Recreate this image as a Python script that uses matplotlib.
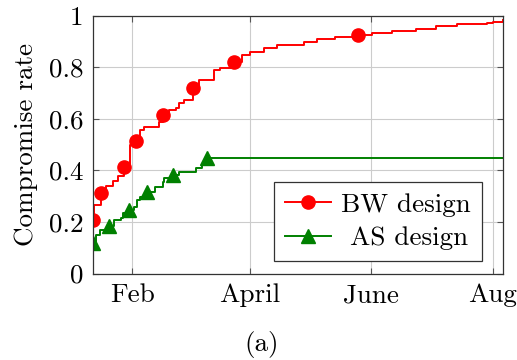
import matplotlib
matplotlib.use('Agg')
import matplotlib.pyplot as plt

plt.rcParams.update({
    'font.family': 'serif',
    'font.serif': ['cmr10'],
    'mathtext.fontset': 'cm',
    'axes.formatter.use_mathtext': True,
    'font.size': 19.5,
})

# day of year (Jan 1 = 0) and cumulative compromise rate
bw_days = [11.2, 11.5, 15.1, 17.6, 21.0, 23.5, 26.9, 29.7, 29.7, 32.8, 34.8, 36.7,
           44.1, 46.6, 49.5, 53.0, 54.5, 56.9, 61.3, 64.3, 70.2, 72.0, 75.1, 82.0,
           85.9, 89.9, 97.0, 103.6, 117.4, 124.0, 132.7, 144.5, 151.2, 161.3,
           173.5, 183.7, 193.9, 209.1, 212.2, 217.0]
bw_rate = [0.208, 0.266, 0.312, 0.340, 0.359, 0.379, 0.414, 0.429, 0.499, 0.515,
           0.557, 0.569, 0.588, 0.616, 0.635, 0.643, 0.662, 0.674, 0.720, 0.751,
           0.751, 0.790, 0.798, 0.821, 0.848, 0.860, 0.876, 0.887, 0.899, 0.911,
           0.918, 0.926, 0.934, 0.942, 0.950, 0.961, 0.969, 0.972, 0.977, 0.982]
bw_marks = [0, 2, 6, 9, 13, 18, 23, 31]

as_days = [11.0, 12.8, 14.5, 19.4, 21.9, 25.0, 26.0, 29.2, 31.7, 33.3, 34.8, 38.2,
           42.3, 46.4, 47.1, 51.4, 54.5, 62.8, 66.1, 68.6, 217.0]
as_rate = [0.118, 0.150, 0.169, 0.184, 0.208, 0.214, 0.235, 0.247, 0.259, 0.285,
           0.298, 0.318, 0.337, 0.357, 0.371, 0.383, 0.395, 0.410, 0.421, 0.447, 0.447]
as_marks = [0, 3, 7, 11, 15, 19]

month_ticks = [31, 90, 151, 212]
month_labels = ['Feb', 'April', 'June', 'Aug']
rate_ticks = [0, 0.2, 0.4, 0.6, 0.8, 1]
rate_labels = ['0', '0.2', '0.4', '0.6', '0.8', '1']

fig = plt.figure(figsize=(5.17, 3.6), dpi=100)
ax = fig.add_axes([0.180, 0.240, 0.792, 0.716])

ax.plot(bw_days, bw_rate, color='red', lw=1.4, drawstyle='steps-post',
        marker='o', markersize=9.5, markevery=bw_marks, label='BW design')
ax.plot(as_days, as_rate, color='green', lw=1.4, drawstyle='steps-post',
        marker='^', markersize=9.5, markevery=as_marks, label=' AS design')

ax.set_xlim(11.2, 217)
ax.set_ylim(0, 1)
ax.set_xticks(month_ticks)
ax.set_xticklabels(month_labels)
ax.set_yticks(rate_ticks)
ax.set_yticklabels(rate_labels)
ax.set_ylabel('Compromise rate', labelpad=8)

ax.grid(True, color='#cccccc', lw=0.8)
ax.set_axisbelow(True)
ax.tick_params(direction='in', top=True, right=True, length=4,
               color='#555555', width=0.8)
ax.tick_params(axis='x', pad=7)
ax.tick_params(axis='y', pad=7)
for sp in ax.spines.values():
    sp.set_linewidth(0.9)
    sp.set_color('#333333')

leg = ax.legend(loc='lower right', bbox_to_anchor=(0.95, 0.049), fancybox=False,
                edgecolor='#333333', framealpha=1, handlelength=1.7,
                borderpad=0.4, labelspacing=0.35, handletextpad=0.4,
                borderaxespad=0)
leg.get_frame().set_linewidth(0.9)

fig.text(0.507, 0.042, '(a)', ha='center', va='center')

fig.savefig('out.png', dpi=100)
